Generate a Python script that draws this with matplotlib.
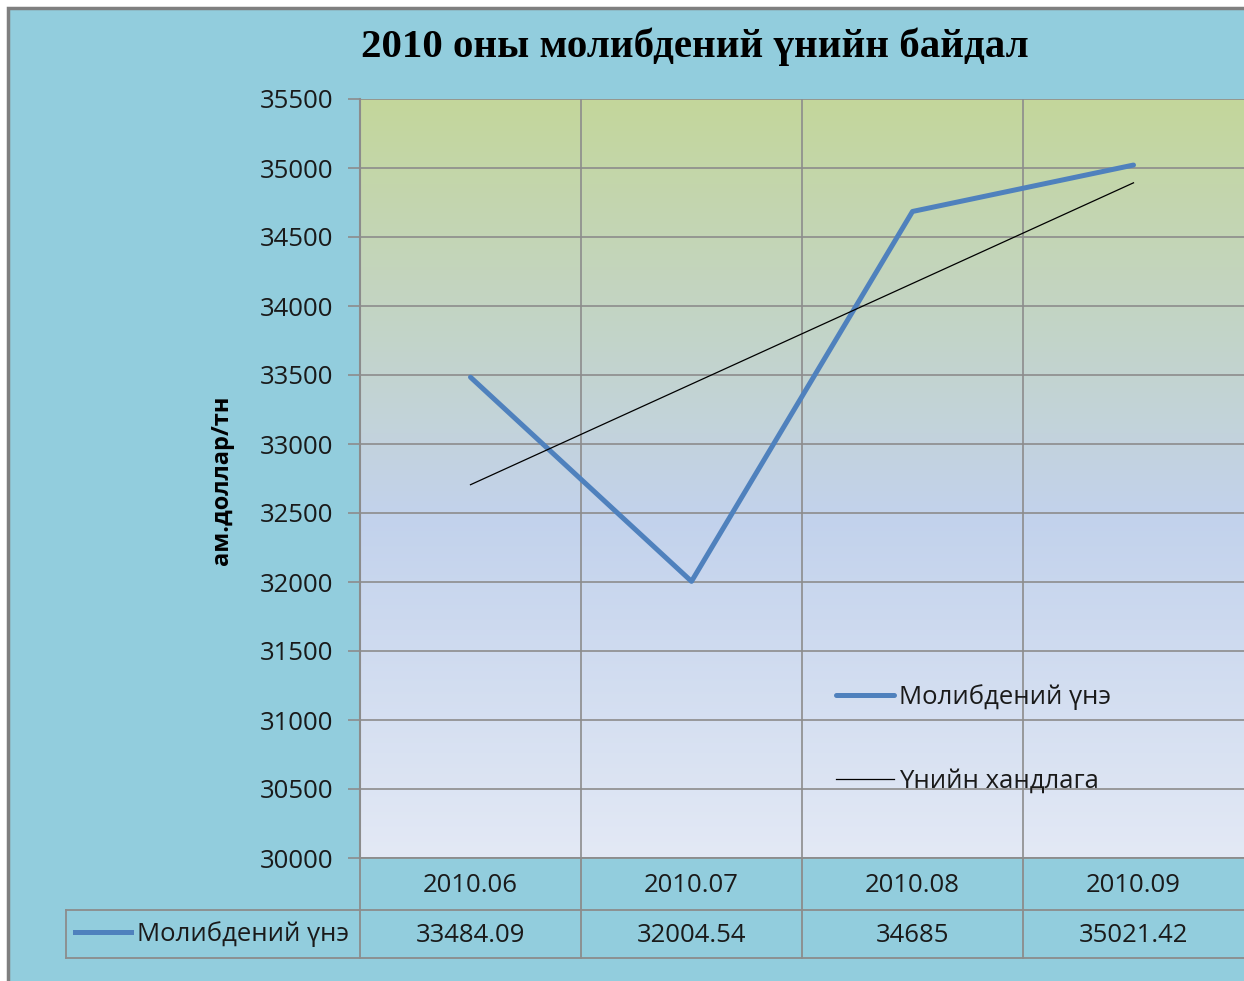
import numpy as np
import matplotlib.pyplot as plt
from matplotlib.patches import Rectangle
from matplotlib.lines import Line2D
from matplotlib.colors import LinearSegmentedColormap

# data
months = ["2010.06", "2010.07", "2010.08", "2010.09"]
prices = [33484.09, 32004.54, 34685, 35021.42]
price_labels = ["33484.09", "32004.54", "34685", "35021.42"]
series_name = "Молибдений үнэ"
trend_name = "Үнийн хандлага"

W, H = 1244, 981
FS = 18.5
plt.rcParams['font.family'] = ['Open Sans', 'DejaVu Sans']

fig = plt.figure(figsize=(W / 100, H / 100), dpi=100)
fig.patch.set_facecolor('white')

# chart area background with grey frame
bg = Rectangle((8 / W, -0.05), 1.1, (H - 8) / H + 0.05, transform=fig.transFigure,
               facecolor='#92CDDD', edgecolor='#7F7F7F', linewidth=2.5, zorder=-10)
fig.patches.append(bg)

ax = fig.add_axes([360 / W, 1 - 858 / H, (1244 - 360) / W, (858 - 99) / H])
ax.set_facecolor('none')

# gradient plot area
cmap = LinearSegmentedColormap.from_list('g', [(0, '#C4D79B'), (0.55, '#C2D2EC'), (1, '#E3E9F5')])
grad = np.linspace(0, 1, 256).reshape(-1, 1)
ax.imshow(grad, cmap=cmap, extent=[0, 1, 0, 1], transform=ax.transAxes,
          aspect='auto', zorder=0, interpolation='bicubic')

x = np.arange(len(months))
ax.plot(x, prices, color='#4F81BD', lw=3.6, solid_capstyle='round', zorder=3, label=series_name)
k, b = np.polyfit(x, prices, 1)
ax.plot(x, k * x + b, color='black', lw=0.9, zorder=3, label=trend_name)

ax.set_xlim(-0.5, 3.5)
ax.set_ylim(30000, 35500)
ax.set_yticks(np.arange(30000, 35501, 500))
ax.set_xticks(x)
ax.set_xticks(x[:-1] + 0.5, minor=True)
ax.set_xticklabels([])
ax.tick_params(axis='x', which='both', length=0)
ax.tick_params(axis='y', length=9, width=1.2, color='#8C8C8C', pad=10, labelsize=FS, labelcolor='#1A1A1A')
ax.grid(axis='y', color='#8C8C8C', lw=1.2)
ax.grid(axis='x', which='minor', color='#8C8C8C', lw=1.2)
ax.set_axisbelow(True)
for s in ['top', 'right', 'bottom']:
    ax.spines[s].set_visible(False)
ax.spines['left'].set_color('#8C8C8C')
ax.spines['left'].set_linewidth(1.5)

# data table under plot
tr = ax.get_xaxis_transform()
ah = 858 - 99
y_cat = -(885 - 858) / ah
y_val = -(935 - 858) / ah
for i in range(len(months)):
    ax.text(x[i], y_cat, months[i], transform=tr, ha='center', va='center',
            fontsize=FS, color='#1A1A1A')
    ax.text(x[i], y_val, price_labels[i], transform=tr, ha='center', va='center',
            fontsize=FS, color='#1A1A1A')

lc = '#8C8C8C'
def fline(xs, ys, **kw):
    fig.add_artist(Line2D([v / W for v in xs], [1 - v / H for v in ys], color=kw.get('c', lc),
                          lw=kw.get('lw', 1.3), transform=fig.transFigure, zorder=4))

fline([360, 1244], [858, 858])
fline([66, 1244], [910, 910])
fline([66, 1244], [958, 958])
fline([66, 66], [910, 958])
for xv in [360, 581, 802, 1023]:
    fline([xv, xv], [858, 958])

# legend key in table header
fline([75, 131], [932, 932], c='#4F81BD', lw=3.6)
fig.text(137 / W, 1 - 934 / H, series_name, ha='left', va='center', fontsize=FS, color='#1A1A1A')

# legend in plot
leg = ax.legend(loc='upper left', bbox_to_anchor=((813 - 360) / 884, (858 - 661) / ah),
                frameon=False, fontsize=FS, handlelength=2.25, handletextpad=0.2, labelspacing=2.3)
for t in leg.get_texts():
    t.set_color('#1A1A1A')

fig.text(695 / W, 1 - 47 / H, "2010 оны молибдений үнийн байдал", ha='center', va='center',
         fontsize=29.5, fontweight='bold', family=['Liberation Serif', 'DejaVu Serif'])
fig.text(222 / W, 1 - 480 / H, "ам.доллар/тн", ha='center', va='center', rotation=90,
         fontsize=17, fontweight='bold')

fig.savefig('out.png', dpi=100)
